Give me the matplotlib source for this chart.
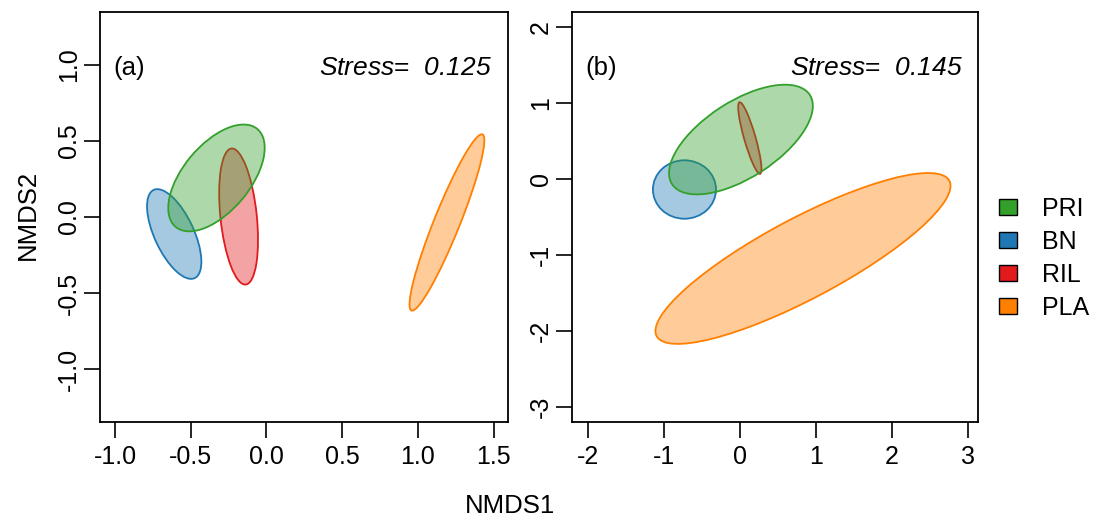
import matplotlib
matplotlib.use("Agg")
import matplotlib.pyplot as plt
from matplotlib.patches import Ellipse, Patch

plt.rcParams['font.family'] = ['Liberation Sans', 'DejaVu Sans']
plt.rcParams['mathtext.fontset'] = 'custom'
plt.rcParams['mathtext.it'] = 'Liberation Sans:italic'
plt.rcParams['mathtext.rm'] = 'Liberation Sans:italic'

# groups and colours
groups = ["PRI", "BN", "RIL", "PLA"]
colors = {"PRI": "#33a02c", "BN": "#1f78b4", "RIL": "#e31a1c", "PLA": "#ff7f00"}
draw_order = ["RIL", "BN", "PRI", "PLA"]

# ellipses: centre x, centre y, semi-major, semi-minor, angle (deg)
ell_a = {
    "PRI": (-0.33, 0.257, 0.42, 0.22, 50),
    "BN": (-0.609, -0.112, 0.32, 0.13, -65),
    "RIL": (-0.184, 0.003, 0.45, 0.12, -84),
    "PLA": (1.191, -0.036, 0.625, 0.085, 68),
}
ell_b = {
    "PRI": (0.013, 0.52, 1.08, 0.50, 33),
    "BN": (-0.73, -0.138, 0.415, 0.385, 0),
    "RIL": (0.13, 0.54, 0.49, 0.075, -74),
    "PLA": (0.829, -1.046, 2.18, 0.53, 28),
}
stress = [0.125, 0.145]
panel_labels = ["(a)", "(b)"]
xticks_a = [-1.0, -0.5, 0.0, 0.5, 1.0, 1.5]
yticks_a = [-1.0, -0.5, 0.0, 0.5, 1.0]
xticks_b = [-2, -1, 0, 1, 2, 3]
yticks_b = [-3, -2, -1, 0, 1, 2]

fig = plt.figure(figsize=(11.02, 5.23), dpi=100)
ax1 = fig.add_axes([0.0907, 0.1931, 0.370, 0.784])
ax2 = fig.add_axes([0.519, 0.1931, 0.3684, 0.784])


def draw_panel(ax, ells, xt, yt, xl, yl, fmt, lab, s):
    for g in draw_order:
        cx, cy, a, b, ang = ells[g]
        ax.add_patch(Ellipse((cx, cy), 2 * a, 2 * b, angle=ang,
                             facecolor=colors[g], alpha=0.4, edgecolor="none"))
        ax.add_patch(Ellipse((cx, cy), 2 * a, 2 * b, angle=ang,
                             facecolor="none", edgecolor=colors[g], lw=1.3))
    ax.set_xlim(xl)
    ax.set_ylim(yl)
    ax.set_xticks(xt)
    ax.set_yticks(yt)
    ax.set_xticklabels([fmt.format(v) for v in xt])
    ax.set_yticklabels([fmt.format(v) for v in yt], rotation=90, va="center")
    ax.tick_params(direction="out", length=11.5, width=1.2, labelsize=18)
    ax.tick_params(axis="x", pad=5)
    ax.tick_params(axis="y", pad=2)
    for sp in ax.spines.values():
        sp.set_linewidth(1.3)
    ax.text(0.032, 0.863, lab, transform=ax.transAxes, fontsize=18.5,
            ha="left", va="center")
    ax.text(0.962, 0.863, r"$\mathrm{Stress}$=  $\mathrm{" + "{:.3f}".format(s) + "}$",
            transform=ax.transAxes, fontsize=19, ha="right", va="center")


draw_panel(ax1, ell_a, xticks_a, yticks_a, (-1.099, 1.592), (-1.349, 1.349),
           "{:.1f}", panel_labels[0], stress[0])
draw_panel(ax2, ell_b, xticks_b, yticks_b, (-2.21, 3.13), (-3.2, 2.2),
           "{:.0f}", panel_labels[1], stress[1])

fig.text(0.463, 0.01, "NMDS1", fontsize=18.5, ha="center", va="bottom")
fig.text(0.025, 0.589, "NMDS2", fontsize=18.5, ha="center", va="center", rotation=90)

handles = [Patch(facecolor=colors[g], edgecolor="black", lw=1.0) for g in groups]
fig.legend(handles, groups, loc="center left", bbox_to_anchor=(0.895, 0.506),
           frameon=False, fontsize=18, handlelength=0.72, handleheight=0.6,
           handletextpad=1.0, labelspacing=0.36, borderpad=0)

fig.savefig("out.png", dpi=100)
